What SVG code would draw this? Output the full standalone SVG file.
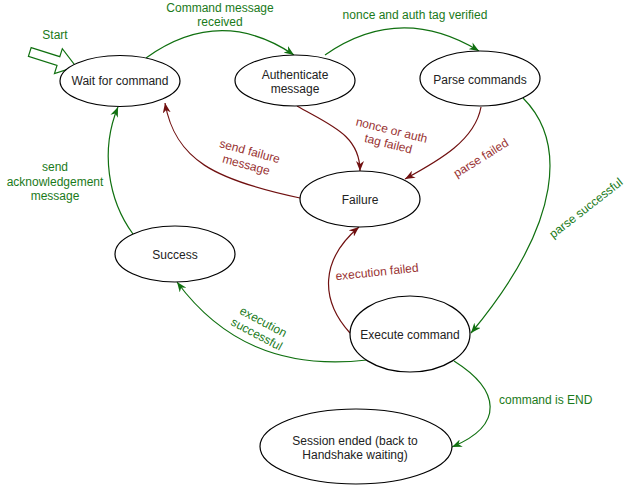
<svg xmlns="http://www.w3.org/2000/svg" width="637" height="485" viewBox="0 0 637 485">
<defs>
<style>
.node ellipse{fill:#fff;stroke:#000;stroke-width:1.2}
.node text{font-family:"Liberation Sans",Arial,sans-serif;font-size:12px;fill:#222;text-anchor:middle}
.g{fill:none;stroke:#107010;stroke-width:1.2}
.r{fill:none;stroke:#701010;stroke-width:1.2}
.lbl{font-family:"Liberation Sans",Arial,sans-serif;font-size:12px;text-anchor:middle}
.lg{fill:#1a7a1a}
.lr{fill:#993333}
</style>
<marker id="ag" viewBox="0 0 10 8" refX="10" refY="4" markerWidth="10" markerHeight="8" markerUnits="userSpaceOnUse" orient="auto"><path d="M0,0 L10,4 L0,8 L3,4 z" fill="#107010"/></marker>
<marker id="ar" viewBox="0 0 10 8" refX="10" refY="4" markerWidth="10" markerHeight="8" markerUnits="userSpaceOnUse" orient="auto"><path d="M0,0 L10,4 L0,8 L3,4 z" fill="#701010"/></marker>
</defs>
<rect width="637" height="485" fill="#fff"/>

<g id="connectors">
<path class="g" d="M146,58 Q220,5 294,55" marker-end="url(#ag)"/>
<path class="g" d="M325,55 Q400,3 479,51" marker-end="url(#ag)"/>
<path class="r" d="M297,106 C330,125 360,135 360,171" marker-end="url(#ar)"/>
<path class="r" d="M481,107 C475,140 440,160 405,179" marker-end="url(#ar)"/>
<path class="r" d="M300,198 C215,180 175,160 165,103" marker-end="url(#ar)"/>
<path class="g" d="M133,234 C108,200 100,150 118,107" marker-end="url(#ag)"/>
<path class="g" d="M367,360 C280,370 220,340 177,282" marker-end="url(#ag)"/>
<path class="r" d="M350,333 C320,300 320,260 359,227" marker-end="url(#ar)"/>
<path class="g" d="M523,98 C565,140 565,220 471,333" marker-end="url(#ag)"/>
<path class="g" d="M454,361 C500,390 505,425 452,447" marker-end="url(#ag)"/>
</g>

<g id="labels">
<text class="lbl lg" x="220" y="12">Command message</text>
<text class="lbl lg" x="220" y="26">received</text>
<text class="lbl lg" x="415" y="19">nonce and auth tag verified</text>
<g transform="translate(390,137) rotate(14)"><text class="lbl lr" y="-3">nonce or auth</text><text class="lbl lr" y="11">tag failed</text></g>
<g transform="translate(248,158) rotate(15)"><text class="lbl lr" y="-3">send failure</text><text class="lbl lr" y="11">message</text></g>
<text class="lbl lr" transform="translate(481,158) rotate(-32)" y="4">parse failed</text>
<text class="lbl lg" transform="translate(586,208) rotate(-38)" y="4">parse successful</text>
<text class="lbl lg" x="55" y="171">send</text>
<text class="lbl lg" x="55" y="186">acknowledgement</text>
<text class="lbl lg" x="55" y="200">message</text>
<g transform="translate(260,328) rotate(28)"><text class="lbl lg" y="-3">execution</text><text class="lbl lg" y="11">successful</text></g>
<text class="lbl lr" transform="translate(377,272) rotate(-6)" y="4">execution failed</text>
<text class="lbl lg" x="499" y="404" style="text-anchor:start">command is END</text>
</g>

<g id="start">
<polygon transform="translate(29.8,52) rotate(17.6)" points="0,-4.6 30,-4.6 30,-13 48.5,0 30,13 30,4.6 0,4.6" fill="#fff" stroke="#107010" stroke-width="1.2"/>
<text class="lbl lg" x="55" y="39">Start</text>
</g>

<g id="wait" class="node"><ellipse cx="120" cy="81" rx="60" ry="25.5"/><text x="120" y="85">Wait for command</text></g>
<g id="auth" class="node"><ellipse cx="295" cy="80.5" rx="60" ry="25.5"/><text x="295" y="79">Authenticate</text><text x="295" y="93">message</text></g>
<g id="parse" class="node"><ellipse cx="480" cy="78.5" rx="60" ry="27.5"/><text x="480" y="84">Parse commands</text></g>
<g id="failure" class="node"><ellipse cx="360" cy="199" rx="60" ry="28"/><text x="360" y="204">Failure</text></g>
<g id="success" class="node"><ellipse cx="175" cy="254" rx="60" ry="28"/><text x="175" y="259">Success</text></g>
<g id="execute" class="node"><ellipse cx="410" cy="334" rx="60" ry="38"/><text x="410" y="339">Execute command</text></g>
<g id="session" class="node"><ellipse cx="356" cy="446.5" rx="96" ry="37.5"/><text x="355" y="445">Session ended (back to</text><text x="355" y="459">Handshake waiting)</text></g>
</svg>
